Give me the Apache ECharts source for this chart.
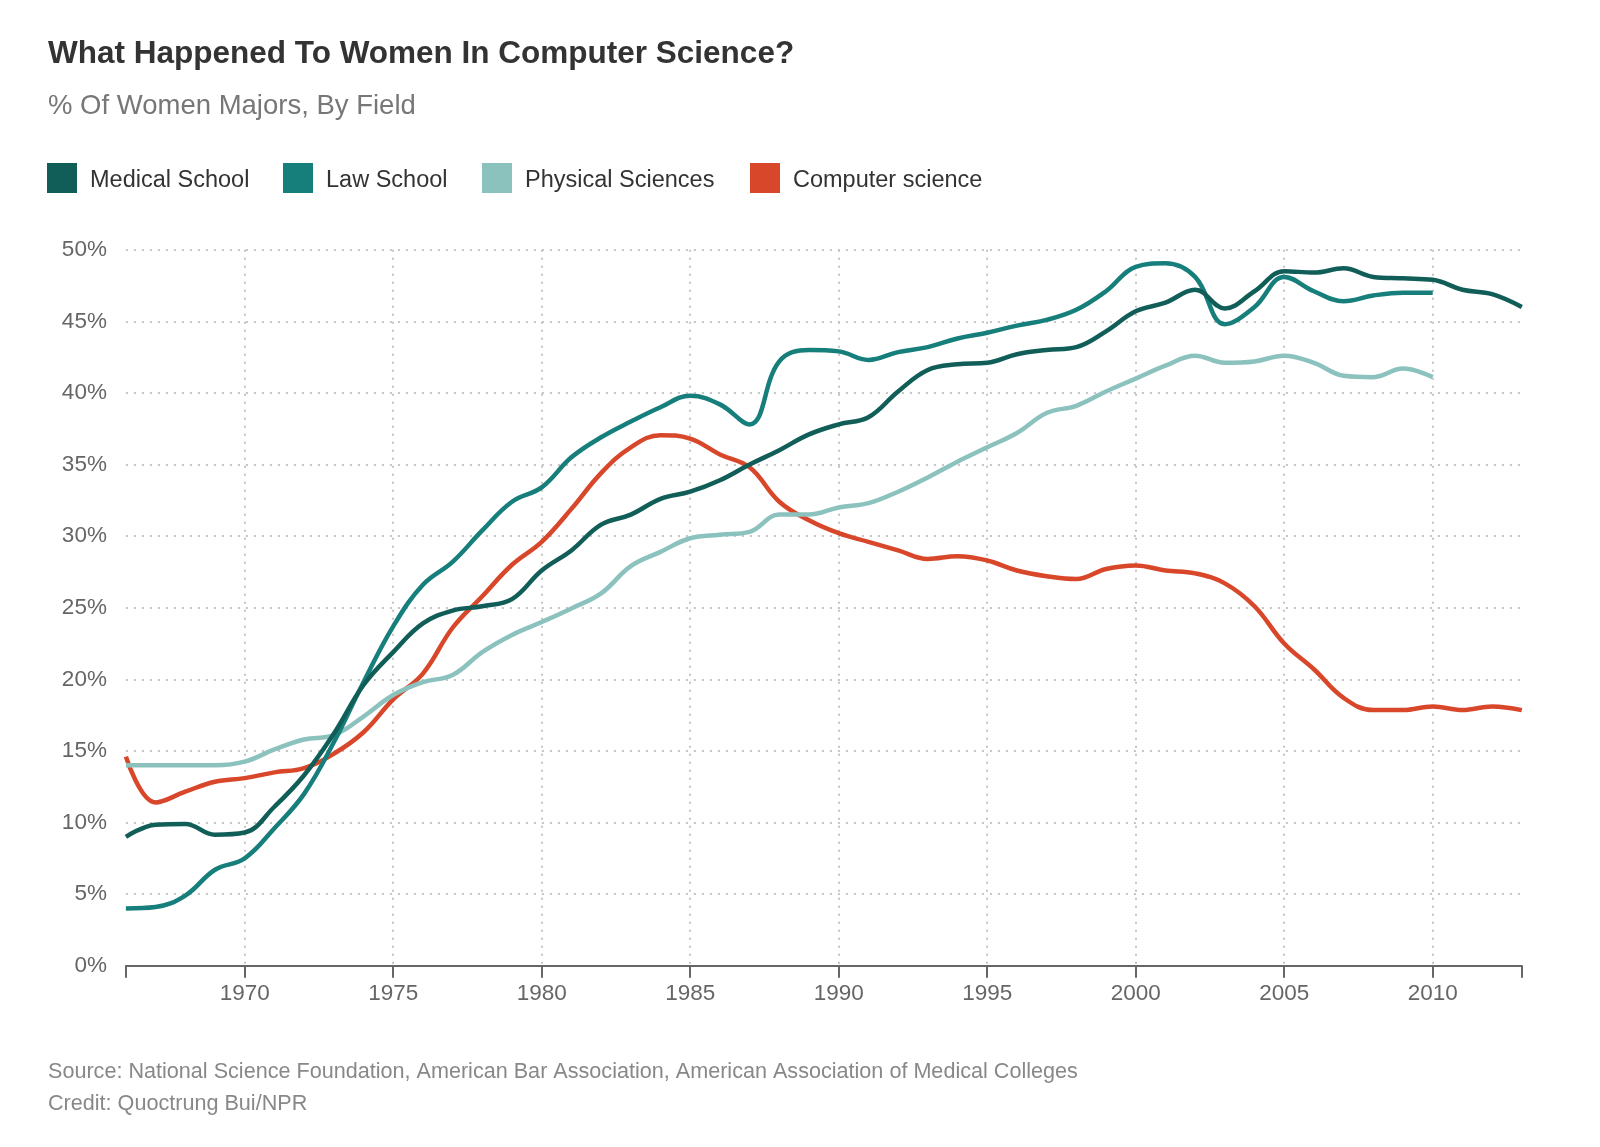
<!DOCTYPE html>
<html>
<head>
<meta charset="utf-8">
<script src="https://cdn.jsdelivr.net/npm/echarts@6/dist/echarts.min.js"></script>
<style>
html,body{margin:0;padding:0;background:#fff;}
#chart{width:1600px;height:1147px;}
</style>
</head>
<body>
<div id="chart"></div>
<script>
const years = [1966,1967,1968,1969,1970,1971,1972,1973,1974,1975,1976,1977,1978,1979,1980,1981,1982,1983,1984,1985,1986,1987,1988,1989,1990,1991,1992,1993,1994,1995,1996,1997,1998,1999,2000,2001,2002,2003,2004,2005,2006,2007,2008,2009,2010,2011,2012,2013];
const medical = [9.0,9.85,9.9,9.15,9.3,11.1,13.3,16.2,19.6,21.9,23.9,24.8,25.1,25.6,27.6,29.0,30.8,31.5,32.6,33.1,33.9,35.0,36.0,37.1,37.8,38.3,40.1,41.6,42.0,42.1,42.7,43.0,43.2,44.3,45.7,46.3,47.2,45.9,47.1,48.5,48.4,48.7,48.1,48.0,47.9,47.2,46.9,46.0];
const law = [4.0,4.1,4.9,6.7,7.5,9.6,12.0,15.6,19.8,23.7,26.6,28.2,30.4,32.4,33.4,35.5,36.9,38.0,39.0,39.8,39.2,37.8,42.2,43.0,42.9,42.3,42.85,43.2,43.8,44.2,44.7,45.1,45.8,47.1,48.8,49.05,48.1,44.8,46.0,48.1,47.1,46.4,46.8,47.0,47.0];
const physical = [14.0,14.0,14.0,14.0,14.25,15.1,15.8,16.1,17.4,18.9,19.8,20.3,21.9,23.1,24.0,24.95,26.0,27.9,28.9,29.85,30.1,30.3,31.5,31.5,32.0,32.3,33.1,34.1,35.2,36.2,37.2,38.6,39.1,40.1,41.0,41.9,42.6,42.1,42.2,42.6,42.1,41.2,41.1,41.7,41.1];
const compsci = [14.6,11.4,12.15,12.85,13.1,13.5,13.8,14.8,16.3,18.6,20.4,23.6,25.8,28.0,29.6,31.9,34.4,36.2,37.05,36.8,35.7,34.8,32.4,31.1,30.2,29.6,29.0,28.4,28.6,28.3,27.6,27.2,27.0,27.7,27.95,27.6,27.4,26.7,25.1,22.5,20.7,18.7,17.85,17.85,18.1,17.85,18.1,17.85];
const seriesNames = ['Medical School','Law School','Physical Sciences','Computer science'];
const yearTicks = [1966,1970,1975,1980,1985,1990,1995,2000,2005,2010,2013];
const yearLabels = [1970,1975,1980,1985,1990,1995,2000,2005,2010];

const colors = ['#115e59','#177f7b','#8cc2be','#d9472b'];
const font = '"Liberation Sans", Arial, Helvetica, sans-serif';
const pair = (ys, vs) => vs.map((v, i) => [ys[i], v]);
const seriesData = [pair(years, medical), pair(years, law), pair(years, physical), pair(years, compsci)];

const legendLefts = [47, 283, 482, 750];
const chart = echarts.init(document.getElementById('chart'));
const option = {
  backgroundColor: '#ffffff',
  animation: false,
  title: [
    {text: 'What Happened To Women In Computer Science?', left: 48, top: 38.5, padding: 0,
     textStyle: {fontFamily: font, fontSize: 31.5, fontWeight: 'bold', color: '#333333', lineHeight: 31.5}},
    {text: '% Of Women Majors, By Field', left: 48, top: 92.5, padding: 0,
     textStyle: {fontFamily: font, fontSize: 27.5, fontWeight: 'normal', color: '#777777', lineHeight: 27.5}},
    {text: 'Source: National Science Foundation, American Bar Association, American Association of Medical Colleges', left: 48, top: 1061.5, padding: 0,
     textStyle: {fontFamily: font, fontSize: 21.6, fontWeight: 'normal', color: '#888888', lineHeight: 21.6}},
    {text: 'Credit: Quoctrung Bui/NPR', left: 48, top: 1093.5, padding: 0,
     textStyle: {fontFamily: font, fontSize: 21.6, fontWeight: 'normal', color: '#888888', lineHeight: 21.6}}
  ],
  legend: seriesNames.map((n, i) => ({
    data: [{name: n, icon: 'rect'}],
    left: legendLefts[i], top: 163,
    itemWidth: 30, itemHeight: 30, padding: 0,
    selectedMode: false,
    formatter: '{t|{name}}',
    textStyle: {fontFamily: font, fontSize: 23.5, color: '#333333',
      rich: {t: {fontFamily: font, fontSize: 23.5, color: '#333333', padding: [5, 0, 0, 8]}}}
  })),
  grid: {left: 125.9, right: 78.2, top: 249.7, bottom: 181.3, containLabel: false},
  xAxis: {
    type: 'value', min: 1966, max: 2013,
    axisLine: {show: true, lineStyle: {color: '#666666', width: 2}},
    axisTick: {show: true, length: 12, lineStyle: {color: '#666666', width: 2}, customValues: yearTicks},
    axisLabel: {show: true, customValues: yearLabels, margin: 17, fontFamily: font, fontSize: 22.5, color: '#666666', formatter: v => String(v)},
    splitLine: {show: true, showMinLine: false, showMaxLine: false, lineStyle: {color: '#c4c4c4', width: 2, type: [2, 6]}}
  },
  yAxis: {
    type: 'value', min: 0, max: 50, interval: 5,
    axisLine: {show: false}, axisTick: {show: false},
    axisLabel: {margin: 19, fontFamily: font, fontSize: 22.5, color: '#666666', formatter: '{value}%'},
    splitLine: {show: true, lineStyle: {color: '#c4c4c4', width: 2, type: [2, 6]}}
  },
  series: seriesNames.map((n, i) => ({
    name: n, type: 'line', data: seriesData[i],
    smooth: 0.4, showSymbol: false, symbol: 'none',
    color: colors[i],
    lineStyle: {width: 4.5, color: colors[i]},
    z: 10 - i
  }))
};
chart.setOption(option);
</script>
</body>
</html>
